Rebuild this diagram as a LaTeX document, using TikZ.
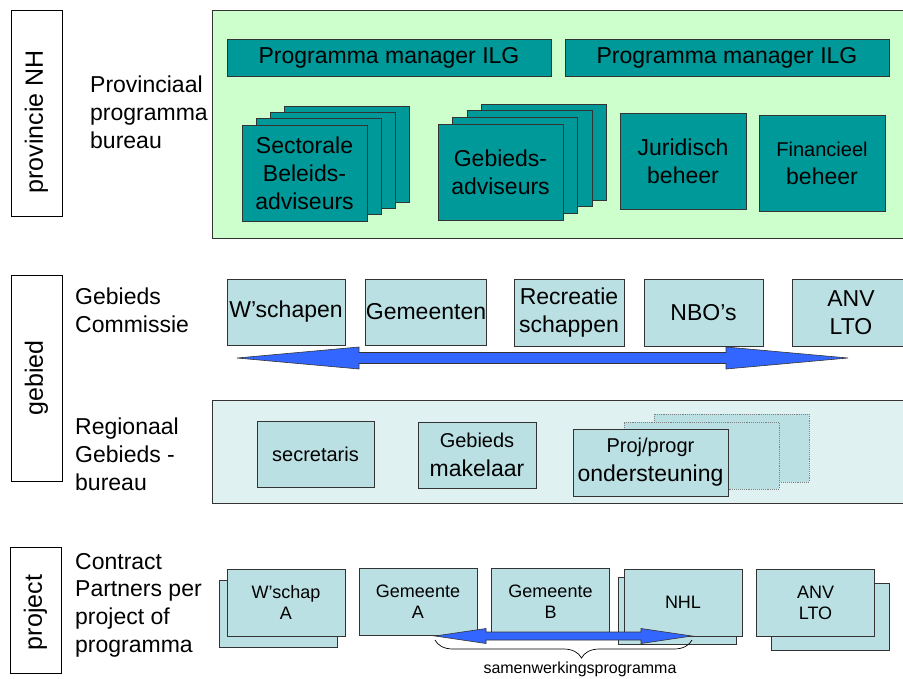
\documentclass[tikz,border=0pt]{standalone}
\usepackage{fontspec}
\setmainfont{Liberation Sans}
\usetikzlibrary{calc,decorations.pathreplacing}
\definecolor{provgreen}{RGB}{204,255,204}
\definecolor{pmteal}{RGB}{0,153,153}
\definecolor{partnerblue}{RGB}{187,224,227}
\definecolor{regiopale}{RGB}{223,241,241}
\definecolor{linkblue}{RGB}{51,102,255}
\definecolor{edgegray}{RGB}{51,51,51}

\begin{document}
\begin{tikzpicture}[x=1pt,y=-1pt,
  every node/.style={inner sep=0pt},
  lane/.style={draw,line width=0.9pt,rotate=90,minimum height=51,font=\fontsize{25}{30}\selectfont},
  side/.style={anchor=north west,align=left,font=\fontsize{23}{28}\selectfont},
  tealbox/.style={draw=edgegray,fill=pmteal,line width=0.9pt,align=center,font=\fontsize{23}{28}\selectfont},
  partner/.style={draw=edgegray,fill=partnerblue,line width=0.9pt,align=center,font=\fontsize{23}{28}\selectfont},
  smallpartner/.style={partner,minimum width=118,minimum height=67,font=\fontsize{18}{21}\selectfont},
  ghost/.style={partner,draw=black!50,densely dotted},
  link/.style={draw=edgegray,fill=linkblue,line width=0.6pt}]

\useasboundingbox (0,0) rectangle (903,678);

\node[lane,minimum width=206] (provNH) at (36.5,113) {provincie NH\hspace*{18pt}};
\node[lane,minimum width=206] (gebied) at (36.5,378) {gebied};
\node[lane,minimum width=126] (project) at (35.5,610) {project\hspace*{5pt}};

\node[side] (provlbl) at (90,76) {Provinciaal\\programma\\bureau};
\node[side,font=\fontsize{23}{27.5}\selectfont] (commlbl) at (75,288) {Gebieds\\Commissie};
\node[side] (regiolbl) at (75,418) {Regionaal\\Gebieds -\\bureau};
\node[side,font=\fontsize{23}{27.7}\selectfont] (contrlbl) at (75,553) {Contract\\Partners per\\project of\\programma};

% provinciaal programmabureau
\draw[edgegray,fill=provgreen,line width=0.9pt] (212,10) rectangle (910,238);
\node[tealbox,minimum width=324,minimum height=37] (pm1) at (389,58) {Programma manager ILG};
\node[tealbox,minimum width=324,minimum height=37] (pm2) at (727,58) {Programma manager ILG};
\foreach \i in {3,2,1}
  \node[tealbox,minimum width=125,minimum height=96] (sect\i) at ({304.5+14.3*\i},{173-6.3*\i}) {};
\node[tealbox,minimum width=125,minimum height=96] (sect) at (304.5,173) {Sectorale\\Beleids-\\adviseurs};
\foreach \i in {3,2,1}
  \node[tealbox,minimum width=125,minimum height=96] (gbadv\i) at ({500.5+14.5*\i},{172-6.6*\i}) {};
\node[tealbox,minimum width=125,minimum height=96] (gbadv) at (500.5,172) {Gebieds-\\adviseurs};
\node[tealbox,minimum width=126,minimum height=96] (jur) at (683,161) {Juridisch\\beheer};
\node[tealbox,minimum width=126,minimum height=96] (fin) at (822,163) {{\fontsize{20}{27}\selectfont Financieel}\\beheer};

% gebiedscommissie
\node[partner,minimum width=118,minimum height=66] (wschapen) at (286,312) {W’schapen};
\node[partner,minimum width=118,minimum height=66] (gemeenten) at (426,312) {Gemeenten};
\node[partner,minimum width=110,minimum height=67] (recreatie) at (569,312.5) {Recreatie\\schappen};
\node[partner,minimum width=119,minimum height=67] (nbo) at (703.5,312.5) {NBO’s};
\node[partner,minimum width=118,minimum height=67] (anv) at (851,312.5) {ANV\\LTO};

\coordinate (gcL) at (237,358);
\coordinate (gcR) at (848,358);
\filldraw[link] (gcL) -- ++(122,-11) -- ++(0,5.5) -- ($(gcR)+(-122,-5.5)$) -- ++(0,-5.5)
  -- (gcR) -- ++(-122,11) -- ++(0,-5.5) -- ($(gcL)+(122,5.5)$) -- ++(0,5.5) -- cycle;

% regionaal gebiedsbureau
\draw[edgegray,fill=regiopale,line width=0.9pt] (212,400) rectangle (910,503);
\node[partner,minimum width=117,minimum height=66,font=\fontsize{20}{24}\selectfont] (secr) at (315.5,454) {secretaris};
\node[partner,minimum width=118,minimum height=66,font=\fontsize{23}{29}\selectfont] (makel) at (477,455) {{\fontsize{20}{29}\selectfont Gebieds}\\makelaar};
\node[ghost,minimum width=155,minimum height=68] (proj2) at (731.5,448) {};
\node[ghost,minimum width=155,minimum height=67] (proj1) at (701.5,455.5) {};
\node[partner,minimum width=155,minimum height=67,font=\fontsize{23}{29}\selectfont] (proj) at (650.5,462.5) {{\fontsize{20}{29}\selectfont Proj/progr}\\ondersteuning};

% contractpartners
\node[smallpartner] (wschapB) at (278.5,614) {};
\node[smallpartner] (wschap) at (286,602.5) {W’schap\\A};
\node[smallpartner] (gemA) at (418,602) {Gemeente\\A};
\node[smallpartner] (gemB) at (550.5,602) {Gemeente\\B};
\node[smallpartner] (nhlB) at (677.5,611) {};
\node[smallpartner] (nhl) at (683,602.5) {NHL};
\node[smallpartner] (anvB) at (830.5,617) {};
\node[smallpartner] (anvlto) at (815.5,602.5) {ANV\\LTO};

\coordinate (swL) at (435,636);
\coordinate (swR) at (692,636);
\filldraw[link] (swL) -- ++(51,-7.5) -- ++(0,3.5) -- ($(swR)+(-51,-4)$) -- ++(0,-3.5)
  -- (swR) -- ++(-51,7.5) -- ++(0,-3.5) -- ($(swL)+(51,4)$) -- ++(0,3.5) -- cycle;
\draw[line width=0.7pt,decorate,decoration={brace,mirror,amplitude=18pt,aspect=0.57}]
  ($(swL)+(0,4)$) -- ($(swR)+(0,4)$);
\node[anchor=base,font=\fontsize{16}{19}\selectfont] (samen) at (580,673) {samenwerkingsprogramma};

\end{tikzpicture}
\end{document}
